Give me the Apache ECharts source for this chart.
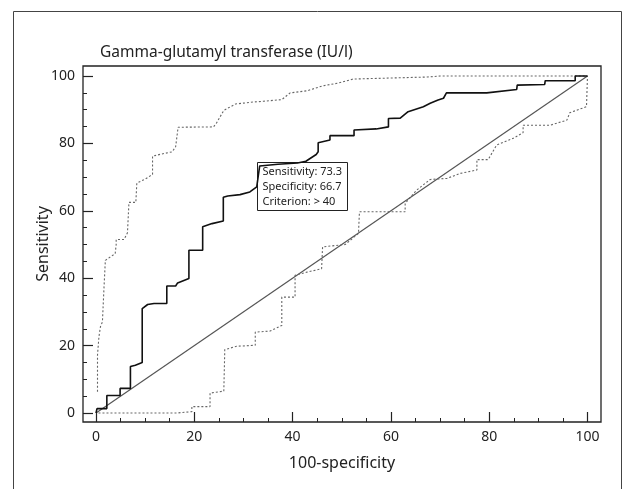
<!DOCTYPE html>
<html>
<head>
<meta charset="utf-8">
<title>Gamma-glutamyl transferase ROC</title>
<script src="https://cdn.jsdelivr.net/npm/echarts@6.0.0/dist/echarts.min.js"></script>
<style>
	html, body { margin: 0; padding: 0; background: #fff; }
	#main { width: 633px; height: 489px; }
</style>
</head>
<body>
<div id="main"></div>
<script>
// x = 100-specificity, y = sensitivity
var rocCurve = [
	[0,0],[0.2,0],[0.2,1.3],[2.2,1.3],[2.2,5.2],[4.9,5.2],[4.9,7.3],[7.0,7.3],[7.0,13.8],
	[8.0,14.2],[9.4,15],[9.4,31],[10.5,32.2],[11.8,32.5],[14.4,32.5],[14.4,37.7],[16.2,37.7],
	[16.6,38.6],[18.9,39.9],[18.9,48.3],[21.7,48.3],[21.7,55.3],[23.6,56.2],[25.9,57],[25.9,64],
	[26.8,64.4],[29.3,64.8],[31.3,65.6],[32.7,67.1],[33.3,73.3],[37,73.8],[41,74.2],[42.7,74.7],
	[44.8,76.7],[45.2,77.5],[45.2,80.2],[47.6,81],[47.6,82.3],[52.5,82.3],[52.5,84],[57,84.3],
	[59.5,84.9],[59.5,87.4],[61.9,87.5],[63.5,89.4],[66.6,90.9],[68,91.9],[69.6,92.9],[70.7,93.4],
	[71.3,95],[79.5,95],[85.6,96],[85.7,97.3],[91.3,97.5],[91.4,98.6],[97.5,98.6],[97.5,100],[100,100]
];
var upperBound = [
	[0.3,6.3],[0.3,17.2],[0.6,22.7],[0.9,25.6],[1.3,27],[1.6,36.5],[1.9,45.3],[2.9,46.3],[3.9,47.3],
	[4.1,50],[4.1,51.5],[5.7,51.5],[6.4,53.5],[6.7,54],[6.7,62.5],[8.1,62.5],[8.3,68.2],[10.1,69.5],
	[11.5,70.8],[11.5,76.2],[13.2,76.8],[15.5,77.5],[16.2,79],[16.7,84.8],[23.9,84.9],[24.5,86],
	[26,89.8],[28.4,91.7],[32.1,92.3],[34,92.5],[37.8,93],[39.5,95],[42.9,95.6],[46.2,97.1],
	[49.3,97.9],[52.3,99.1],[67.4,99.7],[70,100],[100,100]
];
var lowerBound = [
	[0.5,0],[16.4,0],[16.4,0.4],[19.5,0.4],[19.5,1.9],[23.2,1.9],[23.2,5.9],[26,6.5],[26.2,6.7],
	[26.2,18.8],[28.6,19.8],[32.4,20.1],[32.4,24],[35.4,24.3],[37.8,26],[37.8,34.4],[40.5,34.4],
	[40.5,40.9],[42.9,41.8],[45.9,42.8],[46.1,49.3],[50.7,50],[53.4,53.3],[53.6,59.7],[62.9,59.7],
	[62.9,62.2],[65.2,66.1],[68,69.3],[71.4,69.6],[74.1,71.1],[77.5,72.1],[77.5,75.2],[79.8,75.2],
	[81.5,79.5],[84.9,81.5],[86.9,83.2],[86.9,85.4],[92.4,85.4],[95.8,86.9],[96.4,89.1],[99.8,90.9],[100,100]
];
var diagonal = [[0,0],[100,100]];
var tickValues = [0, 20, 40, 60, 80, 100];
var minorTickValues = [5,10,15,25,30,35,45,50,55,65,70,75,85,90,95];
var criterionText = ['Sensitivity: 73.3', 'Specificity: 66.7', 'Criterion: > 40'];

var font = 'Noto Sans';
var myChart = echarts.init(document.getElementById('main'));

// the plot frame reaches a little past 0 and 100 on both axes
function majorAxis(pos, min, max, name, gap) {
	return {
		type: 'value',
		position: pos,
		min: min,
		max: max,
		name: name,
		nameLocation: 'middle',
		nameGap: gap,
		nameMoveOverlap: false,
		nameTextStyle: { fontFamily: font, fontSize: 16, color: '#222' },
		axisLine: { show: false, onZero: false },
		axisTick: { show: true, inside: true, length: 10, customValues: tickValues,
			lineStyle: { color: '#222', width: 1.2 } },
		splitLine: { show: false },
		axisLabel: { fontFamily: font, fontSize: 14, color: '#222', margin: 8, customValues: tickValues }
	};
}
function minorAxis(pos, min, max) {
	return {
		type: 'value',
		position: pos,
		min: min,
		max: max,
		axisLine: { show: false, onZero: false },
		axisTick: { show: true, inside: true, length: 4, customValues: minorTickValues,
			lineStyle: { color: '#222', width: 1 } },
		splitLine: { show: false },
		axisLabel: { show: false }
	};
}

option = {
	animation: false,
	backgroundColor: '#fff',
	title: {
		text: 'Gamma-glutamyl transferase (IU/l)',
		left: 95,
		top: 40,
		textStyle: { fontFamily: font, fontSize: 15.5, fontWeight: 'normal', color: '#222' }
	},
	grid: {
		left: 83,
		right: 32,
		top: 66,
		bottom: 67,
		show: true,
		borderColor: '#222',
		borderWidth: 1.3,
		backgroundColor: 'transparent'
	},
	xAxis: [
		majorAxis('bottom', -2.65, 102.75, '100-specificity', 33),
		minorAxis('bottom', -2.65, 102.75)
	],
	yAxis: [
		majorAxis('left', -2.67, 102.97, 'Sensitivity', 32),
		minorAxis('left', -2.67, 102.97)
	],
	series: [
		{
			type: 'line',
			data: diagonal,
			showSymbol: false,
			lineStyle: { color: '#555', width: 1.2 }
		},
		{
			type: 'line',
			data: lowerBound,
			showSymbol: false,
			lineStyle: { color: '#666', width: 1.1, type: [2, 2] }
		},
		{
			type: 'line',
			data: upperBound,
			showSymbol: false,
			lineStyle: { color: '#666', width: 1.1, type: [2, 2] }
		},
		{
			type: 'line',
			data: rocCurve,
			showSymbol: false,
			z: 5,
			lineStyle: { color: '#111', width: 1.6 }
		}
	],
	graphic: [
		{
			// outer frame of the figure
			type: 'rect',
			silent: true,
			shape: { x: 13.5, y: 11.5, width: 608, height: 520 },
			style: { fill: 'none', stroke: '#444', lineWidth: 1 }
		},
		{
			type: 'group',
			left: 257,
			top: 162,
			z: 20,
			children: [
				{
					type: 'rect',
					shape: { x: 0, y: 0, width: 90, height: 48 },
					style: { fill: '#fff', stroke: '#222', lineWidth: 1 }
				},
				{
					type: 'text',
					x: 5,
					y: 2,
					style: {
						text: criterionText.join('\n'),
						font: '11px "Noto Sans"',
						lineHeight: 15,
						fill: '#222'
					}
				}
			]
		}
	]
};
myChart.setOption(option);
</script>
</body>
</html>
